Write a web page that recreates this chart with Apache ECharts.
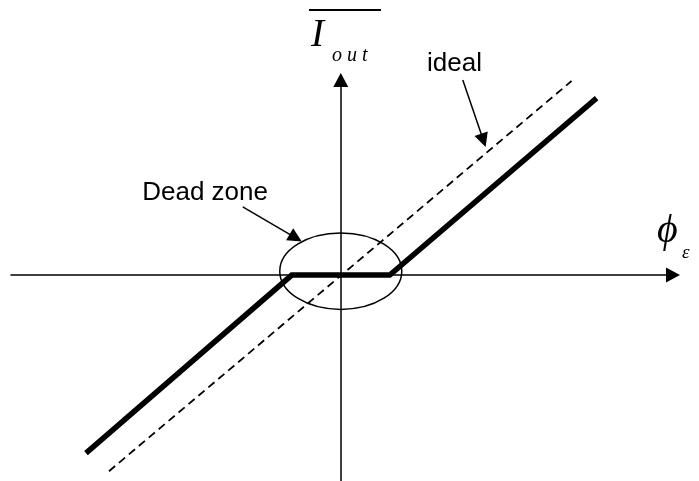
<!DOCTYPE html>
<html>
<head>
<meta charset="utf-8">
<script src="https://cdn.jsdelivr.net/npm/echarts@6/dist/echarts.min.js"></script>
<style>
html,body{margin:0;padding:0;background:#fff}
#main{width:699px;height:481px}
</style>
</head>
<body>
<div id="main"></div>
<script>
// units: half width of the dead zone = 1
var realCurve = [[-5.2, -3.63], [-1, 0], [1, 0], [5.22, 3.61]];
var idealCurve = [[-4.73, -4.0], [4.71, 3.96]];
// dead zone ellipse: centre x, centre y, radius x, radius y
var deadZone = [[0, 0.08, 1.245, 0.78]];
// pointer arrows (from, to)
var idealPointer = [[2.49, 3.98], [2.91, 2.75]];
var deadPointer = [[-2.0, 1.39], [-0.92, 0.76]];
var xRange = [-6.73, 6.78];
var yRange = [-4.2, 3.98];

var myChart = echarts.init(document.getElementById('main'));

var axisCommon = {
    type: 'value',
    axisLine: {
        show: true,
        onZero: true,
        symbol: ['none', 'triangle'],
        symbolSize: [15, 14],
        lineStyle: {color: '#000', width: 1.5}
    },
    axisTick: {show: false},
    axisLabel: {show: false},
    splitLine: {show: false}
};

var option = {
    animation: false,
    backgroundColor: '#fff',
    grid: {left: 11, right: 26, top: 80, bottom: 0},
    xAxis: Object.assign({}, axisCommon, {min: xRange[0], max: xRange[1]}),
    yAxis: Object.assign({}, axisCommon, {min: yRange[0], max: yRange[1]}),
    series: [
        {
            type: 'line',
            data: idealCurve,
            symbol: 'none',
            lineStyle: {color: '#000', width: 1.8, type: [8, 5]}
        },
        {
            type: 'line',
            data: realCurve,
            symbol: 'none',
            lineStyle: {color: '#000', width: 5.5, join: 'miter'}
        },
        {
            type: 'custom',
            data: deadZone,
            clip: false,
            renderItem: function (params, api) {
                var c = api.coord([api.value(0), api.value(1)]);
                var s = api.size([api.value(2), api.value(3)]);
                return {
                    type: 'ellipse',
                    shape: {cx: c[0], cy: c[1], rx: s[0], ry: s[1]},
                    style: {fill: 'none', stroke: '#000', lineWidth: 1.5}
                };
            }
        },
        {
            type: 'lines',
            coordinateSystem: 'cartesian2d',
            symbol: ['none', 'triangle'],
            symbolSize: 14,
            lineStyle: {color: '#000', width: 1.5, opacity: 1},
            data: [{coords: idealPointer}, {coords: deadPointer}]
        }
    ],
    graphic: [
        {type: 'text', x: 268, y: 193, style: {text: 'Dead zone', fill: '#000', font: '26px "Liberation Sans", Arial', align: 'right', verticalAlign: 'middle'}},
        {type: 'text', x: 427, y: 64, style: {text: 'ideal', fill: '#000', font: '26px "Liberation Sans", Arial', align: 'left', verticalAlign: 'middle'}},
        {type: 'text', x: 311, y: 36, style: {text: 'I', fill: '#000', font: 'italic 39px "Liberation Serif", "Times New Roman"', verticalAlign: 'middle'}},
        {type: 'text', x: 332, y: 56, style: {text: 'o u t', fill: '#000', font: 'italic 20px "Liberation Serif", "Times New Roman"', verticalAlign: 'middle'}},
        {type: 'rect', shape: {x: 309, y: 9, width: 72, height: 2}, style: {fill: '#000'}},
        {type: 'text', x: 657, y: 231, style: {text: 'ϕ', fill: '#000', font: 'italic 40px "Liberation Serif", "Times New Roman"', verticalAlign: 'middle'}},
        {type: 'text', x: 682, y: 253, style: {text: 'ε', fill: '#000', font: 'italic 19px "Liberation Serif", "Times New Roman"', verticalAlign: 'middle'}}
    ]
};

myChart.setOption(option);
</script>
</body>
</html>
